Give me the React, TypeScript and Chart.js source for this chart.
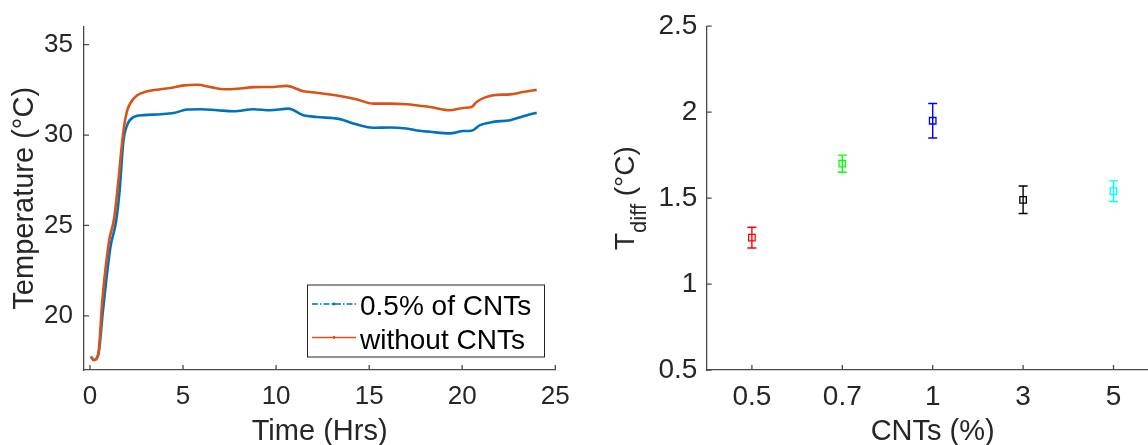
import React, { useEffect, useRef } from 'react';
import { Chart, registerables } from 'chart.js';

Chart.register(...registerables);

// ---- Left panel data: temperature vs time ----
const timeCNT = [0.05, 0.2, 0.45, 0.7, 1.1, 1.4, 1.6, 1.79, 2.0, 2.36, 2.9, 3.8, 4.5, 5.23, 5.95, 6.84, 7.74, 8.8, 9.67, 10.66, 11.46, 12.18, 13.43, 14.15, 15.2, 16.1, 17.0, 17.7, 18.27, 19.34, 20.06, 20.5, 20.96, 21.67, 22.57, 23.28, 24.0];
const tempCNT = [17.75, 17.55, 17.85, 20.3, 23.8, 25.2, 27.0, 29.6, 30.55, 31.0, 31.1, 31.15, 31.22, 31.41, 31.43, 31.37, 31.32, 31.43, 31.37, 31.46, 31.1, 31.0, 30.88, 30.64, 30.4, 30.42, 30.36, 30.24, 30.18, 30.09, 30.22, 30.24, 30.55, 30.73, 30.82, 31.04, 31.24];

const timePlain = [0.05, 0.2, 0.45, 0.66, 1.02, 1.3, 1.5, 1.74, 1.85, 2.0, 2.19, 2.54, 3.08, 3.8, 4.34, 5.05, 5.77, 6.49, 7.2, 7.92, 8.8, 9.7, 10.57, 11.46, 12.18, 13.43, 14.3, 15.2, 16.1, 17.0, 17.7, 18.27, 19.34, 20.06, 20.5, 20.77, 21.67, 22.57, 23.28, 24.0];
const tempPlain = [17.75, 17.55, 17.9, 20.8, 24.1, 25.4, 27.2, 29.7, 30.6, 31.35, 31.8, 32.2, 32.42, 32.53, 32.6, 32.75, 32.78, 32.65, 32.53, 32.56, 32.65, 32.66, 32.72, 32.42, 32.34, 32.16, 31.98, 31.74, 31.74, 31.7, 31.62, 31.55, 31.37, 31.5, 31.55, 31.83, 32.2, 32.25, 32.38, 32.5];

const seriesNames = ['0.5% of CNTs', 'without CNTs'];
const timeTicks = [0, 5, 10, 15, 20, 25];
const tempTicks = [20, 25, 30, 35];

// ---- Right panel data: T_diff vs CNT content ----
const cntLabels = ['0.5', '0.7', '1', '3', '5'];
const tdiffMeans = [1.27, 1.70, 1.95, 1.49, 1.54];
const tdiffErrors = [0.06, 0.05, 0.10, 0.08, 0.06];
const markerColors = ['#FF0000', '#00FF00', '#0000FF', '#000000', '#00FFFF'];
const tdiffTicks = [0.5, 1, 1.5, 2, 2.5];

const FONT = '"Liberation Sans", Arial, Helvetica, sans-serif';
const TEXT = '#262626';
const AXIS = '#4a4a4a';
const BLUE = '#0072BD';
const ORANGE = '#D95319';

function drawInwardTicks(chart: any, xTickLen: number, yTickLen: number) {
  const ctx = chart.ctx;
  const xs = chart.scales.x;
  const ys = chart.scales.y;
  const area = chart.chartArea;
  ctx.save();
  ctx.strokeStyle = AXIS;
  ctx.lineWidth = 1.3;
  ctx.beginPath();
  xs.ticks.forEach((t: any, i: number) => {
    const px = xs.getPixelForTick(i);
    ctx.moveTo(px, area.bottom);
    ctx.lineTo(px, area.bottom - xTickLen);
  });
  ys.ticks.forEach((t: any, i: number) => {
    const py = ys.getPixelForTick(i);
    ctx.moveTo(area.left, py);
    ctx.lineTo(area.left + yTickLen, py);
  });
  ctx.stroke();
  ctx.restore();
}

export default function App() {
  const leftRef = useRef<HTMLCanvasElement>(null);
  const rightRef = useRef<HTMLCanvasElement>(null);

  useEffect(() => {
    const leftPlugin = {
      id: 'leftDecor',
      afterDraw(chart: any) {
        const ctx = chart.ctx;
        const area = chart.chartArea;
        drawInwardTicks(chart, 5, 5);
        ctx.save();
        // x title
        ctx.fillStyle = TEXT;
        ctx.font = `29px ${FONT}`;
        ctx.textAlign = 'center';
        ctx.textBaseline = 'alphabetic';
        ctx.fillText('Time (Hrs)', (area.left + area.right) / 2, 440);
        // y title
        ctx.save();
        ctx.translate(33, (area.top + area.bottom) / 2);
        ctx.rotate(-Math.PI / 2);
        ctx.fillText('Temperature (°C)', 0, 0);
        ctx.restore();
        // legend
        const bx = 307.5, by = 285, bw = 237, bh = 72;
        ctx.fillStyle = '#ffffff';
        ctx.fillRect(bx, by, bw, bh);
        ctx.strokeStyle = '#262626';
        ctx.lineWidth = 1;
        ctx.strokeRect(bx, by, bw, bh);
        const rows = [
          { y: 304, color: BLUE, dash: [6, 2, 1.5, 2] },
          { y: 337.5, color: ORANGE, dash: [] as number[] },
        ];
        rows.forEach((r, i) => {
          ctx.strokeStyle = r.color;
          ctx.lineWidth = 1.3;
          ctx.setLineDash(r.dash);
          ctx.beginPath();
          ctx.moveTo(312, r.y);
          ctx.lineTo(356, r.y);
          ctx.stroke();
          ctx.setLineDash([]);
          ctx.fillStyle = r.color;
          ctx.beginPath();
          ctx.arc(334, r.y, 1.4, 0, Math.PI * 2);
          ctx.fill();
          ctx.fillStyle = '#000000';
          ctx.font = `28px ${FONT}`;
          ctx.textAlign = 'left';
          ctx.textBaseline = 'alphabetic';
          ctx.fillText(seriesNames[i], 360, i === 0 ? 315 : 349);
        });
        ctx.restore();
      },
    };

    const left = new Chart(leftRef.current as HTMLCanvasElement, {
      type: 'line',
      data: {
        datasets: [
          {
            label: seriesNames[0],
            data: timeCNT.map((x, i) => ({ x, y: tempCNT[i] })),
            borderColor: BLUE,
            backgroundColor: BLUE,
            borderWidth: 2.6,
            pointRadius: 0,
            cubicInterpolationMode: 'monotone',
            order: 1,
          },
          {
            label: seriesNames[1],
            data: timePlain.map((x, i) => ({ x, y: tempPlain[i] })),
            borderColor: ORANGE,
            backgroundColor: ORANGE,
            borderWidth: 2.6,
            pointRadius: 0,
            cubicInterpolationMode: 'monotone',
            order: 0,
          },
        ],
      },
      options: {
        responsive: false,
        animation: false,
        devicePixelRatio: 1,
        layout: { padding: { left: 0, right: 600 - 555.3, top: 24, bottom: 0 } },
        plugins: { legend: { display: false }, tooltip: { enabled: false } },
        scales: {
          x: {
            type: 'linear',
            min: -0.32,
            max: 25,
            grid: { display: false, drawTicks: false },
            border: { display: true, color: AXIS, width: 1.3 },
            ticks: { color: TEXT, font: { family: FONT, size: 26 }, padding: 11, maxRotation: 0 },
            afterBuildTicks: (s: any) => { s.ticks = timeTicks.map((v) => ({ value: v })); },
            afterFit: (s: any) => { s.height = 75; },
          },
          y: {
            type: 'linear',
            min: 17,
            max: 36,
            grid: { display: false, drawTicks: false },
            border: { display: true, color: AXIS, width: 1.3 },
            ticks: { color: TEXT, font: { family: FONT, size: 26 }, padding: 11 },
            afterBuildTicks: (s: any) => { s.ticks = tempTicks.map((v) => ({ value: v })); },
            afterFit: (s: any) => { s.width = 84; },
          },
        },
      },
      plugins: [leftPlugin],
    } as any);

    const rightPlugin = {
      id: 'rightDecor',
      beforeDatasetsDraw(chart: any) {
        const ctx = chart.ctx;
        const xs = chart.scales.x;
        const ys = chart.scales.y;
        ctx.save();
        ctx.lineWidth = 1.4;
        tdiffMeans.forEach((m, i) => {
          const px = xs.getPixelForValue(i);
          const top = ys.getPixelForValue(m + tdiffErrors[i]);
          const bot = ys.getPixelForValue(m - tdiffErrors[i]);
          ctx.strokeStyle = markerColors[i];
          ctx.beginPath();
          ctx.moveTo(px, top);
          ctx.lineTo(px, bot);
          ctx.moveTo(px - 4.5, top);
          ctx.lineTo(px + 4.5, top);
          ctx.moveTo(px - 4.5, bot);
          ctx.lineTo(px + 4.5, bot);
          ctx.stroke();
        });
        ctx.restore();
      },
      afterDraw(chart: any) {
        const ctx = chart.ctx;
        const area = chart.chartArea;
        drawInwardTicks(chart, 5, 5);
        ctx.save();
        ctx.fillStyle = TEXT;
        ctx.textBaseline = 'alphabetic';
        // x title
        ctx.font = `29px ${FONT}`;
        ctx.textAlign = 'center';
        const xs = chart.scales.x;
        const cx = (xs.getPixelForValue(0) - 45.2 + xs.getPixelForValue(4) + 45.2) / 2;
        ctx.fillText('CNTs (%)', cx, 440);
        // y title with subscript
        ctx.save();
        ctx.translate(33.5, (area.top + area.bottom) / 2);
        ctx.rotate(-Math.PI / 2);
        ctx.textAlign = 'left';
        const mainFont = `28px ${FONT}`;
        const subFont = `22px ${FONT}`;
        ctx.font = mainFont;
        const wT = ctx.measureText('T').width;
        const wRest = ctx.measureText(' (°C)').width;
        ctx.font = subFont;
        const wSub = ctx.measureText('diff').width;
        let x0 = -(wT + wSub + wRest) / 2;
        ctx.font = mainFont;
        ctx.fillText('T', x0, 0);
        x0 += wT;
        ctx.font = subFont;
        ctx.fillText('diff', x0, 12);
        x0 += wSub;
        ctx.font = mainFont;
        ctx.fillText(' (°C)', x0, 0);
        ctx.restore();
        ctx.restore();
      },
    };

    const right = new Chart(rightRef.current as HTMLCanvasElement, {
      type: 'line',
      data: {
        labels: cntLabels,
        datasets: [
          {
            label: 'Tdiff',
            data: tdiffMeans,
            showLine: false,
            pointStyle: 'rect',
            pointRadius: 4.6,
            pointBorderWidth: 1.3,
            pointBorderColor: markerColors,
            pointBackgroundColor: 'rgba(0,0,0,0)',
          },
        ],
      },
      options: {
        responsive: false,
        animation: false,
        devicePixelRatio: 1,
        layout: { padding: { left: 0, right: 600 - 558.7, top: 24, bottom: 0 } },
        plugins: { legend: { display: false }, tooltip: { enabled: false } },
        scales: {
          x: {
            type: 'category',
            offset: true,
            grid: { display: false, drawTicks: false },
            border: { display: true, color: AXIS, width: 1.3 },
            ticks: { color: TEXT, font: { family: FONT, size: 28 }, padding: 10, maxRotation: 0 },
            afterFit: (s: any) => { s.height = 75; },
          },
          y: {
            type: 'linear',
            min: 0.5,
            max: 2.5,
            grid: { display: false, drawTicks: false },
            border: { display: true, color: AXIS, width: 1.3 },
            ticks: {
              color: TEXT,
              font: { family: FONT, size: 28 },
              padding: 9.4,
              callback: (v: any) => String(v),
            },
            afterBuildTicks: (s: any) => { s.ticks = tdiffTicks.map((v) => ({ value: v })); },
            afterFit: (s: any) => { s.width = 106.7; },
          },
        },
      },
      plugins: [rightPlugin],
    } as any);

    return () => {
      left.destroy();
      right.destroy();
    };
  }, []);

  return (
    <div style={{ position: 'fixed', left: 0, top: 0, width: 1148, height: 445, overflow: 'hidden', background: '#ffffff' }}>
      <canvas ref={leftRef} width={600} height={445} style={{ position: 'absolute', left: 0, top: 0 }} />
      <canvas ref={rightRef} width={600} height={445} style={{ position: 'absolute', left: 600, top: 0 }} />
    </div>
  );
}
